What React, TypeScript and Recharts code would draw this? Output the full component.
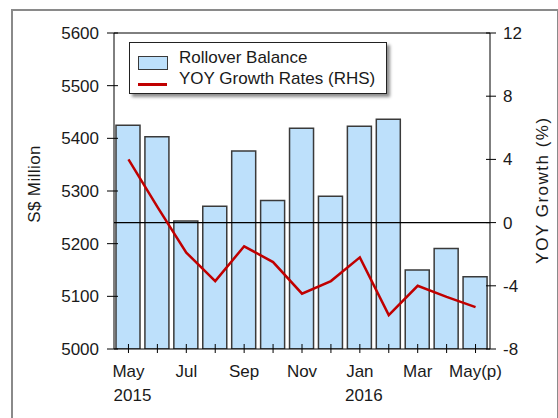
import React from 'react';
import {
  ComposedChart, Bar, Line, XAxis, YAxis, ReferenceLine
} from 'recharts';

const months = ['May15', 'Jun15', 'Jul15', 'Aug15', 'Sep15', 'Oct15', 'Nov15', 'Dec15', 'Jan16', 'Feb16', 'Mar16', 'Apr16', 'May16'];
const monthLabels = ['May', '', 'Jul', '', 'Sep', '', 'Nov', '', 'Jan', '', 'Mar', '', 'May(p)'];
const yearLabels = ['2015', '', '', '', '', '', '', '', '2016', '', '', '', ''];
const rolloverBalance = [5425, 5403, 5243, 5271, 5376, 5282, 5419, 5290, 5423, 5436, 5150, 5191, 5137];
const yoyGrowth = [4.0, 1.0, -1.9, -3.7, -1.5, -2.5, -4.5, -3.7, -2.2, -5.85, -4.0, -4.7, -5.35];
const leftTicks = [5000, 5100, 5200, 5300, 5400, 5500, 5600];
const rightTicks = [-8, -4, 0, 4, 8, 12];

const FONT = '"Liberation Sans", Arial, sans-serif';
const TEXT = '#1a1a1a';
const BAR_FILL = '#bde0fb';
const BAR_STROKE = '#3a3a3a';
const LINE = '#c00000';

const data = months.map((m, i) => ({
  month: m,
  balance: rolloverBalance[i],
  growth: yoyGrowth[i],
}));

const LeftTick = (props: any) => {
  const { x, y, payload } = props;
  return (
    <g>
      <line x1={x + 8} x2={x + 19} y1={y} y2={y} stroke="#000" />
      <text x={x} y={y} dy={6} textAnchor="end" fontSize={17} fontFamily={FONT} fill={TEXT}>
        {payload.value}
      </text>
    </g>
  );
};

const RightTick = (props: any) => {
  const { x, y, payload } = props;
  return (
    <g>
      <line x1={x - 17} x2={x - 7} y1={y} y2={y} stroke="#000" />
      <text x={x} y={y} dy={6} textAnchor="start" fontSize={17} fontFamily={FONT} fill={TEXT}>
        {payload.value}
      </text>
    </g>
  );
};

const MonthTick = (props: any) => {
  const { x, y, index } = props;
  const axisY = y - 12;
  return (
    <g>
      <line x1={x} x2={x} y1={axisY - 5} y2={axisY + 4} stroke="#000" />
      <text x={x} y={axisY + 28} textAnchor="middle" fontSize={17} fontFamily={FONT} fill={TEXT}>
        {monthLabels[index]}
      </text>
      <text x={x + 4} y={axisY + 52} textAnchor="middle" fontSize={17} fontFamily={FONT} fill={TEXT}>
        {yearLabels[index]}
      </text>
    </g>
  );
};

const LegendBox = () => (
  <div
    style={{
      position: 'absolute',
      left: 129,
      top: 42,
      width: 256,
      height: 50,
      background: '#fff',
      border: '1px solid #222',
      boxShadow: '3px 3px 3px rgba(0,0,0,0.45)',
      fontFamily: FONT,
      fontSize: 17,
      color: TEXT,
    }}
  >
    <div style={{ position: 'absolute', left: 8, top: 13, width: 28, height: 12, background: BAR_FILL, border: `1px solid ${BAR_STROKE}` }} />
    <div style={{ position: 'absolute', left: 8, top: 40, width: 29, height: 3, background: LINE }} />
    <div style={{ position: 'absolute', left: 49, top: 5, lineHeight: '20px' }}>Rollover Balance</div>
    <div style={{ position: 'absolute', left: 49, top: 26, lineHeight: '20px' }}>YOY Growth Rates (RHS)</div>
  </div>
);

export default function App() {
  return (
    <div style={{ position: 'absolute', left: 0, top: 0, width: 558, height: 418, overflow: 'hidden', background: '#fff' }}>
      <div style={{ position: 'absolute', left: 11, top: 9, width: 544, height: 430, border: '2px solid #8a8a8a' }} />
      <ComposedChart
        width={558}
        height={418}
        data={data}
        margin={{ top: 33, right: 18, bottom: 19, left: 64 }}
        style={{ position: 'absolute', left: 0, top: 0 }}
      >
        <XAxis
          dataKey="month"
          xAxisId="x"
          interval={0}
          height={50}
          tickLine={false}
          tickSize={4}
          tickMargin={8}
          axisLine={{ stroke: '#000' }}
          tick={<MonthTick />}
        />
        <YAxis
          yAxisId="left"
          orientation="left"
          width={50}
          domain={[5000, 5600]}
          ticks={leftTicks}
          interval={0}
          tickLine={false}
          tickSize={7}
          tickMargin={8}
          axisLine={{ stroke: '#000' }}
          tick={<LeftTick />}
          allowDataOverflow
        />
        <YAxis
          yAxisId="right"
          orientation="right"
          width={50}
          domain={[-8, 12]}
          ticks={rightTicks}
          interval={0}
          tickLine={false}
          tickSize={5}
          tickMargin={8}
          axisLine={{ stroke: '#000' }}
          tick={<RightTick />}
        />
        <ReferenceLine yAxisId="left" xAxisId="x" y={5600} stroke="#000" />
        <Bar
          dataKey="balance"
          yAxisId="left"
          xAxisId="x"
          barSize={24}
          fill={BAR_FILL}
          stroke={BAR_STROKE}
          strokeWidth={1.5}
          isAnimationActive={false}
        />
        <ReferenceLine yAxisId="right" xAxisId="x" y={0} stroke="#000" strokeWidth={1.2} />
        <Line
          dataKey="growth"
          yAxisId="right"
          xAxisId="x"
          type="linear"
          stroke={LINE}
          strokeWidth={2.5}
          dot={false}
          activeDot={false}
          isAnimationActive={false}
        />
      </ComposedChart>
      <LegendBox />
      <div
        style={{
          position: 'absolute', left: 35, top: 184, transform: 'translate(-50%, -50%) rotate(-90deg)',
          fontFamily: FONT, fontSize: 17, color: TEXT, whiteSpace: 'nowrap', letterSpacing: 0.4,
        }}
      >
        S$ Million
      </div>
      <div
        style={{
          position: 'absolute', left: 543, top: 190, transform: 'translate(-50%, -50%) rotate(-90deg)',
          fontFamily: FONT, fontSize: 17, color: TEXT, whiteSpace: 'nowrap', letterSpacing: 1.5,
        }}
      >
        YOY Growth (%)
      </div>
    </div>
  );
}
